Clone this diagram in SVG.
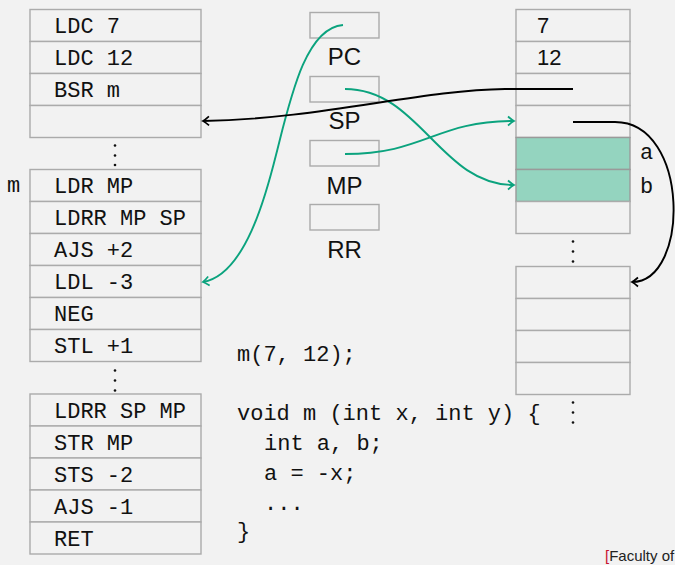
<svg xmlns="http://www.w3.org/2000/svg" width="675" height="565" viewBox="0 0 675 565">
<style>
.cell{fill:#f2f2f2;stroke:#ababab;stroke-width:1.4}
.hl{fill:#94d4bf;stroke:#9a9a9a;stroke-width:1.4}
.tt{font-family:"Liberation Mono","DejaVu Sans Mono",monospace;font-size:22px;fill:#111}
.sf{font-family:"Liberation Sans","DejaVu Sans",sans-serif;font-size:24px;fill:#111}
.num{font-family:"Liberation Sans","DejaVu Sans",sans-serif;font-size:22px;fill:#111}
.dot{fill:#111}
.g{fill:none;stroke:#0ba37e;stroke-width:1.9}
.k{fill:none;stroke:#000;stroke-width:1.9}
</style>
<defs>
<marker id="ag" viewBox="-8 -6 10 12" refX="0" refY="0" markerWidth="10" markerHeight="12" markerUnits="userSpaceOnUse" orient="auto">
<path d="M-6,-4.5 Q-2,-1 0,0 Q-2,1 -6,4.5" fill="none" stroke="#0ba37e" stroke-width="1.7"/>
</marker>
<marker id="ak" viewBox="-8 -6 10 12" refX="0" refY="0" markerWidth="10" markerHeight="12" markerUnits="userSpaceOnUse" orient="auto">
<path d="M-6,-4.5 Q-2,-1 0,0 Q-2,1 -6,4.5" fill="none" stroke="#000" stroke-width="1.7"/>
</marker>
</defs>
<rect width="675" height="565" fill="#f2f2f2"/>

<g id="code-block-1">
<rect class="cell" x="30" y="9.5" width="171" height="32"/>
<rect class="cell" x="30" y="41.5" width="171" height="32"/>
<rect class="cell" x="30" y="73.5" width="171" height="32"/>
<rect class="cell" x="30" y="105.5" width="171" height="32"/>
<text class="tt" x="54" y="33">LDC 7</text>
<text class="tt" x="54" y="65">LDC 12</text>
<text class="tt" x="54" y="97">BSR m</text>
</g>
<g id="dots-left-1">
<circle class="dot" cx="115" cy="145.5" r="1.3"/>
<circle class="dot" cx="115" cy="155.5" r="1.3"/>
<circle class="dot" cx="115" cy="165" r="1.3"/>
</g>
<g id="code-block-2">
<text class="tt" x="7" y="192">m</text>
<rect class="cell" x="30" y="169.5" width="171" height="32"/>
<rect class="cell" x="30" y="201.5" width="171" height="32"/>
<rect class="cell" x="30" y="233.5" width="171" height="32"/>
<rect class="cell" x="30" y="265.5" width="171" height="32"/>
<rect class="cell" x="30" y="297.5" width="171" height="32"/>
<rect class="cell" x="30" y="329.5" width="171" height="32"/>
<text class="tt" x="54" y="193">LDR MP</text>
<text class="tt" x="54" y="225">LDRR MP SP</text>
<text class="tt" x="54" y="257">AJS +2</text>
<text class="tt" x="54" y="289">LDL -3</text>
<text class="tt" x="54" y="321">NEG</text>
<text class="tt" x="54" y="353">STL +1</text>
</g>
<g id="dots-left-2">
<circle class="dot" cx="115" cy="370.5" r="1.3"/>
<circle class="dot" cx="115" cy="380.5" r="1.3"/>
<circle class="dot" cx="115" cy="390.5" r="1.3"/>
</g>
<g id="code-block-3">
<rect class="cell" x="30" y="394" width="171" height="32"/>
<rect class="cell" x="30" y="426" width="171" height="32"/>
<rect class="cell" x="30" y="458" width="171" height="32"/>
<rect class="cell" x="30" y="490" width="171" height="32"/>
<rect class="cell" x="30" y="522" width="171" height="32"/>
<text class="tt" x="54" y="417.5">LDRR SP MP</text>
<text class="tt" x="54" y="449.5">STR MP</text>
<text class="tt" x="54" y="481.5">STS -2</text>
<text class="tt" x="54" y="513.5">AJS -1</text>
<text class="tt" x="54" y="545.5">RET</text>
</g>

<g id="reg-PC">
<rect class="cell" x="310" y="12.5" width="69" height="25.5"/>
<text class="sf" x="344.5" y="65" text-anchor="middle">PC</text>
</g>
<g id="reg-SP">
<rect class="cell" x="310" y="76.5" width="69" height="25.5"/>
<text class="sf" x="344.5" y="129" text-anchor="middle">SP</text>
</g>
<g id="reg-MP">
<rect class="cell" x="310" y="140.5" width="69" height="25.5"/>
<text class="sf" x="344.5" y="194" text-anchor="middle">MP</text>
</g>
<g id="reg-RR">
<rect class="cell" x="310" y="204.5" width="69" height="25.5"/>
<text class="sf" x="344.5" y="258" text-anchor="middle">RR</text>
</g>

<g id="stack-1">
<rect class="cell" x="516" y="9.5" width="114" height="32"/>
<rect class="cell" x="516" y="41.5" width="114" height="32"/>
<rect class="cell" x="516" y="73.5" width="114" height="32"/>
<rect class="cell" x="516" y="105.5" width="114" height="32"/>
<rect class="hl" x="516" y="137.5" width="114" height="32"/>
<rect class="hl" x="516" y="169.5" width="114" height="32"/>
<rect class="cell" x="516" y="201.5" width="114" height="32"/>
<text class="num" x="537" y="33">7</text>
<text class="num" x="537" y="65">12</text>
<text class="tt" x="640" y="159">a</text>
<text class="tt" x="640" y="193">b</text>
</g>
<g id="dots-right-1">
<circle class="dot" cx="573" cy="241.5" r="1.3"/>
<circle class="dot" cx="573" cy="251.5" r="1.3"/>
<circle class="dot" cx="573" cy="261.5" r="1.3"/>
</g>
<g id="stack-2">
<rect class="cell" x="516" y="266.5" width="114" height="32"/>
<rect class="cell" x="516" y="298.5" width="114" height="32"/>
<rect class="cell" x="516" y="330.5" width="114" height="32"/>
<rect class="cell" x="516" y="362.5" width="114" height="32"/>
</g>
<g id="dots-right-2">
<circle class="dot" cx="573" cy="402.5" r="1.3"/>
<circle class="dot" cx="573" cy="412.5" r="1.3"/>
<circle class="dot" cx="573" cy="422.5" r="1.3"/>
</g>

<g id="source-code">
<text class="tt" x="237" y="361" xml:space="preserve">m(7, 12);</text>
<text class="tt" x="237" y="420" xml:space="preserve">void m (int x, int y) {</text>
<text class="tt" x="264" y="450" xml:space="preserve">int a, b;</text>
<text class="tt" x="264" y="480" xml:space="preserve">a = -x;</text>
<text class="tt" x="264" y="510" xml:space="preserve">...</text>
<text class="tt" x="237" y="538" xml:space="preserve">}</text>
</g>

<g id="connectors">
<path class="g" d="M343,25 C305,28 290,100 276,155 C266,195 245,275 203,282" marker-end="url(#ag)"/>
<path class="g" d="M345,89 C420,89 440,185 514,185" marker-end="url(#ag)"/>
<path class="g" d="M345,154 C425,154 435,121 514,121" marker-end="url(#ag)"/>
<path class="k" d="M573,89 L505,89 C420,90 320,119 203,121" marker-end="url(#ak)"/>
<path class="k" d="M573,122 L615,122 C690,122 690,282 632,282" marker-end="url(#ak)"/>
</g>

<g id="footer">
<text x="605" y="561" font-family="Liberation Sans, DejaVu Sans, sans-serif" font-size="15" fill="#222"><tspan fill="#c8102e">[</tspan>Faculty of</text>
</g>
</svg>
